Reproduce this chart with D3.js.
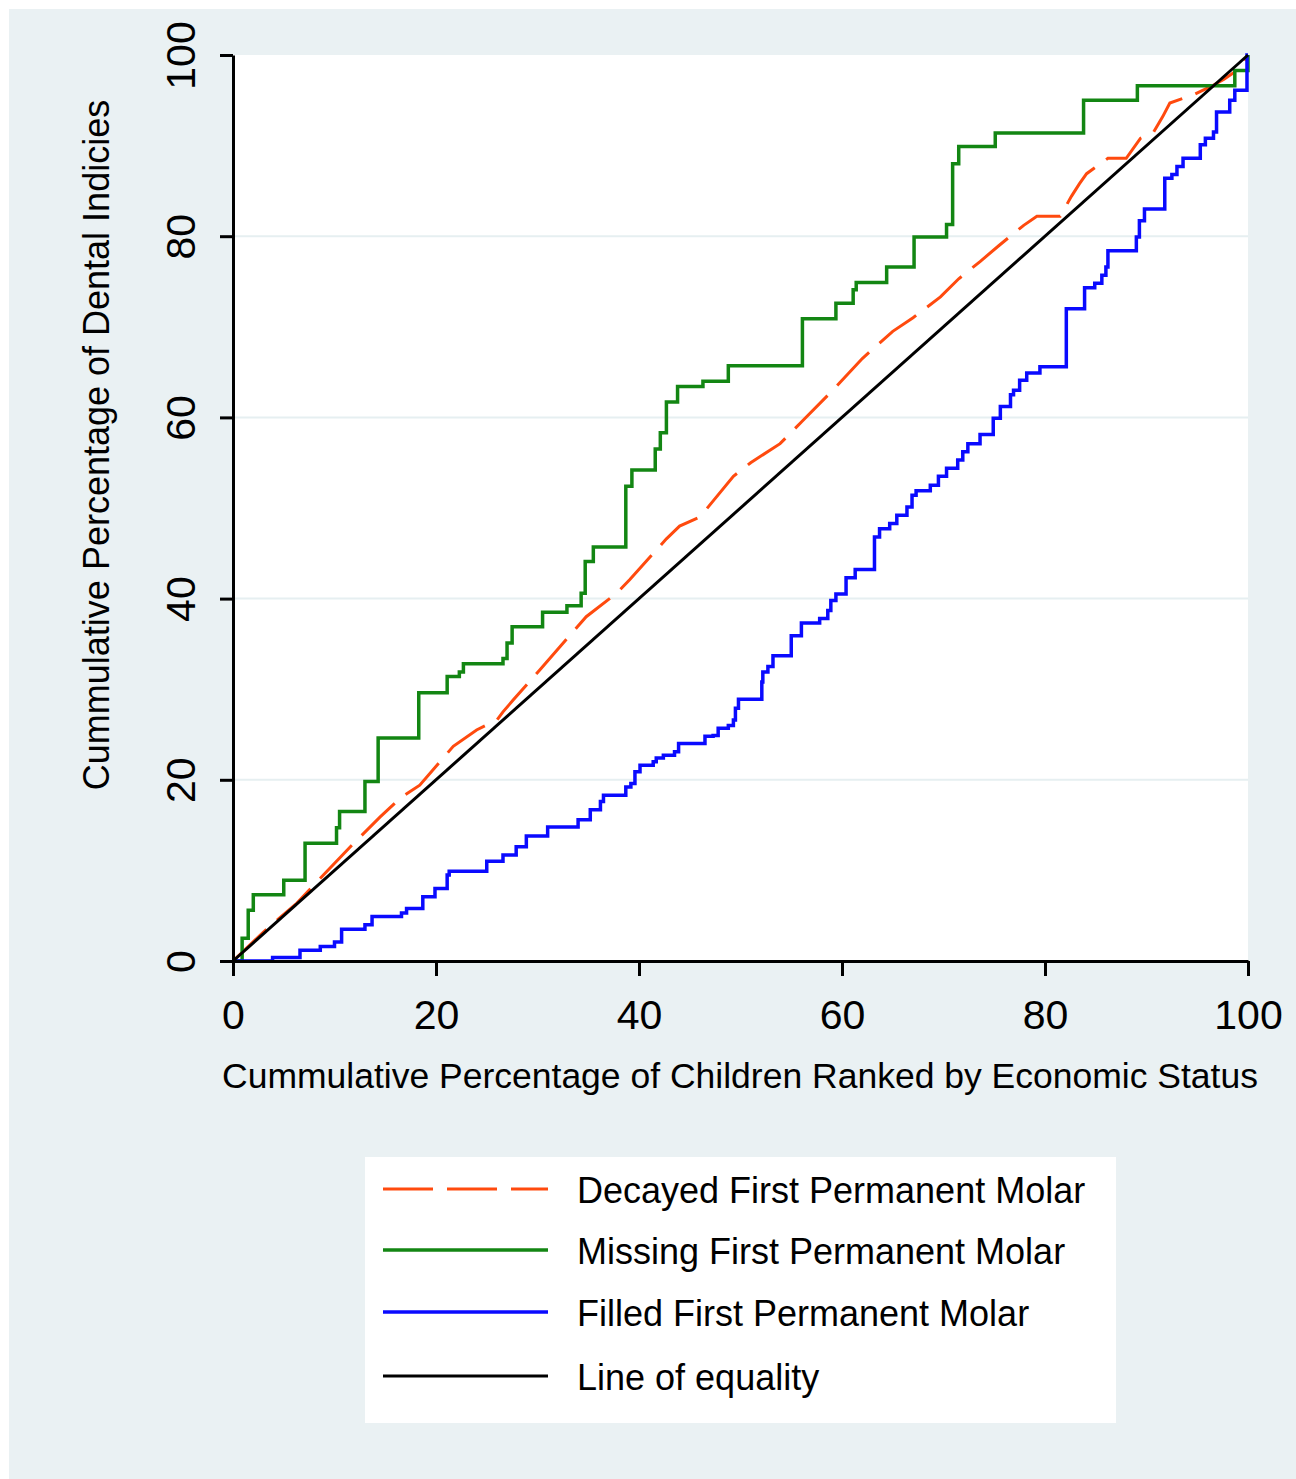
<!DOCTYPE html>
<html>
<head>
<meta charset="utf-8">
<script src="https://cdn.jsdelivr.net/npm/d3@7"></script>
<style>
  body { margin: 0; background: #ffffff; }
  svg text { font-family: "Liberation Sans", Arial, sans-serif; fill: #000; }
</style>
</head>
<body>
<div id="chart"></div>
<script>
// values (x = cumulative % children, y = cumulative % index)
const xTicks = [0, 20, 40, 60, 80, 100];
const yTicks = [0, 20, 40, 60, 80, 100];
const gridTicks = [20, 40, 60, 80];

const seriesNames = ["Decayed First Permanent Molar", "Missing First Permanent Molar",
                     "Filled First Permanent Molar", "Line of equality"];

// decayed: fine steps, drawn as a polyline
const decayedX = [0, 3, 6.3, 9, 11.9, 14.5, 16.5, 18.4, 21.7, 24, 26, 26.6, 27.6, 30.2, 34.8, 37.8, 39.1, 42.7,
  44, 46, 49.3, 51, 53.9, 56, 59.1, 62, 65, 67, 69.7, 71.5, 73.6, 75.5, 77.9, 79.2, 81.5, 82.6, 83.4, 84.1,
  86.2, 88, 89.4, 90.7, 91.6, 92.3, 94.6, 96.3, 97.6, 98.9, 100];
const decayedY = [0, 3.2, 6.4, 9.6, 13, 15.9, 18, 19.4, 23.7, 25.5, 26.6, 27.5, 28.8, 32.1, 38, 40.6, 42.1, 46.6,
  48, 49, 53.5, 55, 57.1, 59.5, 63, 66.5, 69.5, 71, 73.3, 75.3, 77.2, 79, 81.2, 82.2, 82.2, 84.4, 85.8, 86.9,
  88.6, 88.6, 90.8, 91.5, 93.2, 94.7, 95.6, 96.5, 97.3, 98.3, 100];

// missing: step function (x where it jumps, new level)
const missingX = [0, 0.9, 1.5, 2.0, 5.0, 7.1, 10.2, 10.5, 13.0, 14.3, 18.3, 21.1, 22.3, 22.7, 26.6, 27.0, 27.5,
  30.5, 32.9, 34.3, 34.7, 35.5, 38.7, 39.3, 41.6, 42.1, 42.7, 43.8, 46.3, 48.8, 56.1, 59.4, 61.1, 61.4, 64.4,
  67.1, 70.3, 70.9, 71.5, 75.1, 83.8, 89.1, 98.7, 100];
const missingY = [0, 2.5, 5.6, 7.3, 8.9, 13.0, 14.7, 16.5, 19.8, 24.6, 29.6, 31.4, 31.9, 32.8, 33.4, 35.1, 36.9,
  38.5, 39.2, 40.6, 44.1, 45.7, 52.4, 54.2, 56.5, 58.3, 61.7, 63.4, 64.0, 65.7, 70.9, 72.6, 74.1, 74.9, 76.6,
  79.9, 81.3, 88.0, 89.9, 91.4, 95.0, 96.6, 98.3, 100];

// filled: step function
const filledX = [0, 3.9, 6.6, 8.6, 10.0, 10.7, 13.0, 13.7, 16.6, 17.1, 18.7, 19.9, 21.1, 21.3, 25.0, 26.6, 27.9,
  28.9, 31.0, 34.0, 35.2, 36.2, 36.5, 38.7, 39.2, 39.6, 40.1, 41.4, 41.7, 42.4, 43.5, 43.9, 46.5, 47.3, 47.8,
  48.8, 49.3, 49.5, 49.8, 52.1, 52.2, 52.7, 53.2, 55.0, 56.0, 57.8, 58.6, 58.9, 59.4, 60.4, 61.3, 63.2, 63.7,
  64.7, 65.4, 66.4, 66.9, 67.3, 68.7, 69.5, 70.3, 71.4, 71.9, 72.4, 73.6, 74.9, 75.6, 76.6, 76.9, 77.5, 78.2,
  79.5, 82.1, 83.9, 84.9, 85.6, 86.0, 86.2, 89.0, 89.3, 89.8, 91.8, 92.5, 93.0, 93.6, 95.3, 95.8, 96.6, 96.9,
  98.2, 98.7, 99.9, 100];
const filledY = [0, 0.4, 1.2, 1.6, 2.1, 3.5, 4.0, 4.9, 5.3, 5.8, 7.1, 8.0, 9.5, 9.9, 11.0, 11.7, 12.6,
  13.8, 14.8, 15.6, 16.7, 17.6, 18.3, 19.2, 19.6, 20.9, 21.6, 22.0, 22.4, 22.7, 23.1, 24.0, 24.8, 24.9, 25.7,
  26.0, 26.6, 27.9, 28.9, 30.8, 31.9, 32.5, 33.7, 35.9, 37.3, 37.8, 38.7, 39.8, 40.5, 42.3, 43.2, 46.8, 47.7,
  48.3, 49.2, 50.1, 51.4, 51.9, 52.5, 53.5, 54.4, 55.3, 56.2, 57.1, 58.1, 59.9, 61.2, 62.5, 63.0, 64.1, 64.9,
  65.6, 72.0, 74.3, 74.8, 75.7, 76.6, 78.4, 79.9, 81.7, 83.0, 86.4, 86.8, 87.7, 88.6, 90.1, 90.8, 91.5, 93.7,
  95.0, 96.1, 100, 100];

const equalityX = [0, 100];
const equalityY = [0, 100];

const colors = ["#ff4a0e", "#138613", "#0a0aff", "#000000"];

const W = 1296, H = 1479;
const svg = d3.select("#chart").append("svg")
    .attr("width", W).attr("height", H);

// graph background
svg.append("rect").attr("x", 9).attr("y", 9).attr("width", W - 9).attr("height", H - 9)
    .attr("fill", "#eaf1f3");

const x = d3.scaleLinear().domain([0, 100]).range([233, 1248]);
const y = d3.scaleLinear().domain([0, 100]).range([961, 55]);

// plot region
svg.append("rect")
    .attr("x", x(0)).attr("y", y(100))
    .attr("width", x(100) - x(0)).attr("height", y(0) - y(100))
    .attr("fill", "#ffffff");

// grid
svg.append("g").selectAll("line")
    .data(gridTicks)
    .join("line")
    .attr("x1", x(0)).attr("x2", x(100))
    .attr("y1", d => y(d)).attr("y2", d => y(d))
    .attr("stroke", "#e6eff1").attr("stroke-width", 2);

const zip = (xs, ys) => xs.map((v, i) => [v, ys[i]]);

const lineLin = d3.line().x(d => x(d[0])).y(d => y(d[1]));
const lineStep = d3.line().x(d => x(d[0])).y(d => y(d[1])).curve(d3.curveStepAfter);

const plotG = svg.append("g");

plotG.append("path")
    .attr("d", lineLin(zip(decayedX, decayedY)))
    .attr("fill", "none").attr("stroke", colors[0]).attr("stroke-width", 3)
    .attr("stroke-dasharray", "46,14");

plotG.append("path")
    .attr("d", lineStep(zip(missingX, missingY)))
    .attr("fill", "none").attr("stroke", colors[1]).attr("stroke-width", 3.5);

plotG.append("path")
    .attr("d", lineStep(zip(filledX, filledY)))
    .attr("fill", "none").attr("stroke", colors[2]).attr("stroke-width", 3.5);

plotG.append("path")
    .attr("d", lineLin(zip(equalityX, equalityY)))
    .attr("fill", "none").attr("stroke", colors[3]).attr("stroke-width", 3);

// axes
const xAxis = svg.append("g")
    .attr("transform", `translate(0,${y(0)})`)
    .call(d3.axisBottom(x).tickValues(xTicks).tickSize(15).tickSizeOuter(0).tickPadding(24));
const yAxis = svg.append("g")
    .attr("transform", `translate(${x(0)},0)`)
    .call(d3.axisLeft(y).tickValues(yTicks).tickSize(13).tickSizeOuter(0));

[xAxis, yAxis].forEach(a => {
    a.select(".domain").attr("stroke", "#000").attr("stroke-width", 3);
    a.selectAll(".tick line").attr("stroke", "#000").attr("stroke-width", 3);
    a.selectAll(".tick text").style("font-size", "41px")
        .style("font-family", '"Liberation Sans", Arial, sans-serif');
});

yAxis.selectAll(".tick text")
    .attr("x", null).attr("dy", null)
    .attr("text-anchor", "middle")
    .attr("transform", "translate(-38,0) rotate(-90)");

// axis titles
svg.append("text")
    .attr("x", 740).attr("y", 1088)
    .attr("text-anchor", "middle")
    .style("font-size", "35.5px")
    .text("Cummulative Percentage of Children Ranked by Economic Status");

svg.append("text")
    .attr("transform", "translate(109,445) rotate(-90)")
    .attr("text-anchor", "middle")
    .style("font-size", "36px")
    .text("Cummulative Percentage of Dental Indicies");

// legend
const legend = svg.append("g");
legend.append("rect")
    .attr("x", 365).attr("y", 1157).attr("width", 751).attr("height", 266)
    .attr("fill", "#ffffff");

const rowsY = [1189, 1250, 1312, 1376];
const dashes = ["50,14", null, null, null];
const widths = [3, 3.5, 3.5, 3];

const rows = legend.selectAll("g.row")
    .data(seriesNames)
    .join("g")
    .attr("class", "row")
    .attr("transform", (d, i) => `translate(0,${rowsY[i]})`);

rows.append("line")
    .attr("x1", 383).attr("x2", 548)
    .attr("stroke", (d, i) => colors[i])
    .attr("stroke-width", (d, i) => widths[i])
    .attr("stroke-dasharray", (d, i) => dashes[i]);

rows.append("text")
    .attr("x", 577).attr("y", 14)
    .style("font-size", "36px")
    .text(d => d);
</script>
</body>
</html>
